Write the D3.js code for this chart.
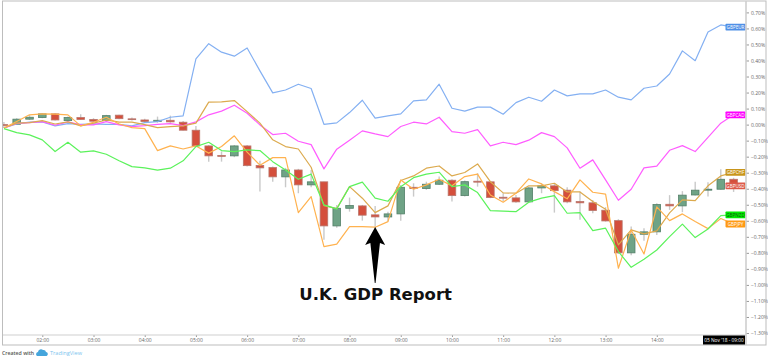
<!DOCTYPE html>
<html>
<head>
<meta charset="utf-8">
<script src="https://cdn.jsdelivr.net/npm/d3@7"></script>
<style>
  html, body { margin: 0; padding: 0; background: #fff; }
  svg { display: block; font-family: "Open Sans", Roboto, sans-serif; }
</style>
</head>
<body>
<svg id="chart" width="768" height="361"></svg>
<script>
// percent change, one value per 15 minute bar starting 01:15
const gbpEur = [
  -0.021, 0.004, 0.015, 0.017, -0.008, 0.006, 0.002, 0.004, 0.002, 0.002,
  -0.008, 0.012, 0.019, 0.046, 0.054, 0.410, 0.505, 0.452, 0.427, 0.478,
  0.335, 0.198, 0.216, 0.252, 0.225, 0.002, 0.011, 0.075, 0.152, 0.040,
  0.054, 0.067, 0.148, 0.154, 0.252, 0.102, 0.084, 0.109, 0.109, 0.065,
  0.137, 0.171, 0.146, 0.216, 0.179, 0.192, 0.192, 0.216, 0.171, 0.154,
  0.227, 0.241, 0.316, 0.460, 0.399, 0.578, 0.622, 0.608
];
const gbpCad = [
  -0.021, 0.007, 0.012, 0.019, -0.004, 0.017, -0.002, -0.002, 0.019, -0.002,
  -0.012, -0.006, 0.002, 0.006, -0.006, 0.017, 0.061, 0.084, 0.121, 0.071,
  -0.002, -0.062, -0.054, -0.104, -0.125, -0.276, -0.153, -0.097, -0.039, -0.058,
  -0.075, -0.012, 0.015, 0.004, 0.046, -0.044, -0.054, -0.031, -0.133, -0.110,
  -0.125, -0.097, -0.050, -0.075, -0.145, -0.272, -0.220, -0.345, -0.472, -0.403,
  -0.270, -0.259, -0.160, -0.131, -0.168, -0.080, 0.009, 0.061
];
const gbpChf = [
  -0.021, 0.009, 0.012, 0.025, 0.004, 0.017, -0.008, 0.009, 0.029, 0.015,
  0.015, 0, -0.019, -0.012, -0.008, 0.009, 0.140, 0.142, 0.150, 0.081,
  0.009, -0.095, -0.137, -0.152, -0.266, -0.505, -0.524, -0.387, -0.459, -0.549,
  -0.507, -0.349, -0.320, -0.272, -0.258, -0.320, -0.299, -0.245, -0.356, -0.426,
  -0.428, -0.382, -0.382, -0.366, -0.420, -0.420, -0.480, -0.528, -0.750, -0.657,
  -0.682, -0.663, -0.551, -0.470, -0.474, -0.382, -0.320, -0.298
];
const gbpJpy = [
  -0.021, 0.019, 0.061, 0.067, 0.065, 0.061, -0.008, 0.015, 0.046, 0.004,
  -0.019, -0.025, -0.162, -0.133, -0.152, -0.133, -0.178, -0.137, -0.070, -0.172,
  -0.253, -0.206, -0.206, -0.549, -0.449, -0.761, -0.746, -0.636, -0.636, -0.640,
  -0.605, -0.345, -0.403, -0.376, -0.341, -0.382, -0.324, -0.309, -0.439, -0.484,
  -0.428, -0.339, -0.370, -0.418, -0.463, -0.345, -0.422, -0.434, -0.896, -0.657,
  -0.807, -0.513, -0.599, -0.557, -0.605, -0.649, -0.586, -0.620
];
const gbpNzd = [
  -0.025, -0.050, -0.064, -0.095, -0.168, -0.110, -0.172, -0.164, -0.185, -0.225,
  -0.262, -0.270, -0.284, -0.272, -0.226, -0.137, -0.110, -0.162, -0.168, -0.158,
  -0.162, -0.231, -0.283, -0.341, -0.309, -0.501, -0.526, -0.387, -0.359, -0.459,
  -0.478, -0.387, -0.331, -0.309, -0.297, -0.387, -0.376, -0.424, -0.536, -0.540,
  -0.543, -0.484, -0.459, -0.443, -0.553, -0.549, -0.661, -0.646, -0.792, -0.890,
  -0.840, -0.782, -0.699, -0.621, -0.705, -0.651, -0.568, -0.563
];

// GBPUSD candles
const usdOpen = [
  0, 0.002, 0.034, 0.044, 0.067, 0.025, 0.044, 0.032, 0.025, 0.059,
  0.036, 0.029, 0.019, 0.027, 0.015, -0.035, -0.133, -0.193, -0.195, -0.133,
  -0.255, -0.268, -0.326, -0.283, -0.376, -0.357, -0.632, -0.522, -0.507, -0.563,
  -0.576, -0.557, -0.391, -0.399, -0.372, -0.347, -0.443, -0.353, -0.357, -0.453,
  -0.457, -0.482, -0.395, -0.382, -0.409, -0.480, -0.488, -0.534, -0.599, -0.800,
  -0.684, -0.669, -0.497, -0.507, -0.439, -0.409, -0.403, -0.341
];
const usdClose = [
  0, 0.034, 0.046, 0.067, 0.029, 0.044, 0.032, 0.021, 0.056, 0.037,
  0.031, 0.019, 0.027, 0.017, -0.035, -0.133, -0.195, -0.196, -0.133, -0.256,
  -0.270, -0.326, -0.283, -0.376, -0.357, -0.632, -0.522, -0.505, -0.565, -0.576,
  -0.557, -0.391, -0.399, -0.372, -0.347, -0.443, -0.356, -0.359, -0.455, -0.459,
  -0.482, -0.395, -0.382, -0.412, -0.482, -0.488, -0.536, -0.601, -0.800, -0.684,
  -0.669, -0.499, -0.507, -0.440, -0.409, -0.403, -0.341, -0.382
];
const usdHigh = [
  0.017, 0.039, 0.061, 0.071, 0.071, 0.050, 0.065, 0.040, 0.061, 0.061,
  0.044, 0.036, 0.050, 0.056, 0.023, -0.008, -0.127, -0.168, -0.127, -0.127,
  -0.225, -0.262, -0.270, -0.276, -0.283, -0.356, -0.501, -0.455, -0.501, -0.507,
  -0.543, -0.376, -0.366, -0.356, -0.324, -0.341, -0.349, -0.303, -0.353, -0.428,
  -0.439, -0.387, -0.366, -0.364, -0.391, -0.418, -0.470, -0.515, -0.590, -0.636,
  -0.646, -0.490, -0.440, -0.415, -0.356, -0.359, -0.278, -0.332
];
const usdLow = [
  -0.021, -0.002, 0.029, 0.040, 0.025, 0.019, 0.029, 0.015, 0.019, 0.034,
  0.025, 0.012, 0.012, 0.012, -0.037, -0.137, -0.231, -0.231, -0.203, -0.262,
  -0.418, -0.356, -0.391, -0.428, -0.391, -0.719, -0.643, -0.543, -0.599, -0.636,
  -0.605, -0.599, -0.449, -0.407, -0.376, -0.480, -0.449, -0.387, -0.459, -0.476,
  -0.487, -0.487, -0.428, -0.549, -0.490, -0.594, -0.553, -0.605, -0.807, -0.815,
  -0.724, -0.688, -0.532, -0.546, -0.443, -0.449, -0.407, -0.420
];

const yTicks = [0.7, 0.6, 0.5, 0.4, 0.3, 0.2, 0.1, 0, -0.1, -0.2, -0.3, -0.4, -0.5, -0.6, -0.7, -0.8, -0.9, -1.0, -1.1, -1.2, -1.3];
const hourTicks = [2, 3, 4, 5, 6, 7, 8, 9, 10, 11, 12, 13, 14];

const svg = d3.select("#chart");

const plot = { left: 3, right: 746, top: 1, bottom: 335 };

const barTimes = d3.range(usdOpen.length).map(i => new Date(Date.UTC(2018, 10, 5, 1, 15 + i * 15)));

const x = d3.scaleUtc()
  .domain([barTimes[0], barTimes[barTimes.length - 1]])
  .range([3.9, 733.6]);

const y = d3.scaleLinear()
  .domain([0.7, -1.3])
  .range([12.4, 333]);

svg.append("defs")
  .append("clipPath")
  .attr("id", "plot-clip")
  .append("rect")
  .attr("x", plot.left)
  .attr("y", plot.top)
  .attr("width", plot.right - plot.left)
  .attr("height", plot.bottom - plot.top);

const g = svg.append("g").attr("clip-path", "url(#plot-clip)");

// Candles
const candles = g.selectAll(".candle")
  .data(barTimes.map((t, i) => ({ t, open: usdOpen[i], close: usdClose[i], high: usdHigh[i], low: usdLow[i] })))
  .enter()
  .append("g")
  .attr("class", "candle");

candles.append("line")
  .attr("x1", d => x(d.t))
  .attr("x2", d => x(d.t))
  .attr("y1", d => y(d.high))
  .attr("y2", d => y(d.low))
  .attr("stroke", "#c9c9c9")
  .attr("stroke-width", 1.4);

candles.append("rect")
  .attr("x", d => x(d.t) - 3.8)
  .attr("y", d => y(Math.max(d.open, d.close)))
  .attr("width", 7.6)
  .attr("height", d => Math.max(0.8, Math.abs(y(d.open) - y(d.close))))
  .attr("fill", d => d.close > d.open ? "#6fa386" : "#d44f3c")
  .attr("stroke", d => d.close > d.open ? "#537f68" : "#b9766c")
  .attr("stroke-width", 0.8);

// Comparison lines
const line = d3.line()
  .x((d, i) => x(barTimes[i]))
  .y(d => y(d));

const series = [
  { name: "GBPEUR", values: gbpEur, line: "#84b0f2", label: "#4f8fe6", text: "#fff" },
  { name: "GBPCAD", values: gbpCad, line: "#ff5cff", label: "#ff00ff", text: "#fff" },
  { name: "GBPCHF", values: gbpChf, line: "#dcaa4e", label: "#c8951b", text: "#fff" },
  { name: "GBPJPY", values: gbpJpy, line: "#ffb24f", label: "#ff9a14", text: "#fff" },
  { name: "GBPNZD", values: gbpNzd, line: "#5bf25b", label: "#00ea00", text: "#145214" }
];

g.selectAll(".compare")
  .data(series)
  .enter()
  .append("path")
  .attr("class", "compare")
  .attr("fill", "none")
  .attr("stroke", d => d.line)
  .attr("stroke-width", 1.2)
  .attr("stroke-linejoin", "round")
  .attr("d", d => line(d.values));

// Last value labels
const labels = series.concat([
  { name: "GBPUSD", values: usdClose, label: "#dc5a4a", text: "#fff" }
]);

const tags = svg.selectAll(".tag")
  .data(labels)
  .enter()
  .append("g")
  .attr("class", "tag")
  .attr("transform", d => `translate(725.5,${y(d.values[d.values.length - 1])})`);

tags.append("rect")
  .attr("y", -3.4)
  .attr("width", 20)
  .attr("height", 6.8)
  .attr("rx", 0.8)
  .attr("fill", d => d.label);

tags.append("text")
  .attr("x", 10)
  .attr("y", 1.7)
  .attr("text-anchor", "middle")
  .attr("font-size", "4.6px")
  .attr("fill", d => d.text)
  .text(d => d.name);

// X axis
const xAxis = svg.append("g")
  .attr("transform", `translate(0,${plot.bottom})`)
  .call(d3.axisBottom(x)
    .tickValues(hourTicks.map(h => new Date(Date.UTC(2018, 10, 5, h))))
    .tickFormat(d3.utcFormat("%H:%M"))
    .tickSize(2)
    .tickPadding(1.5));
xAxis.select(".domain").remove();
xAxis.selectAll("line").attr("stroke", "#999");
xAxis.selectAll("text").attr("font-size", "5px").attr("font-family", "\"Open Sans\", sans-serif").attr("fill", "#666");

// Y axis
const yAxis = svg.append("g")
  .attr("transform", `translate(${plot.right},0)`)
  .call(d3.axisRight(y)
    .tickValues(yTicks)
    .tickFormat(d => d3.format(".2f")(d) + "%")
    .tickSize(3)
    .tickPadding(2));
yAxis.select(".domain").remove();
yAxis.selectAll("line").attr("stroke", "#999");
yAxis.selectAll("text").attr("font-size", "5px").attr("font-family", "\"Open Sans\", sans-serif").attr("fill", "#666");

// Frame and axis borders
svg.append("rect")
  .attr("x", 2.5)
  .attr("y", 1)
  .attr("width", 763.5)
  .attr("height", 344)
  .attr("fill", "none")
  .attr("stroke", "#bdbdbd")
  .attr("stroke-width", 1);

svg.append("line")
  .attr("x1", 3).attr("x2", plot.right)
  .attr("y1", plot.bottom).attr("y2", plot.bottom)
  .attr("stroke", "#cfcfcf");

svg.append("line")
  .attr("x1", plot.right).attr("x2", plot.right)
  .attr("y1", 1).attr("y2", 345)
  .attr("stroke", "#cfcfcf")
  .attr("stroke-width", 1.6);

// Crosshair date box
const dateBox = svg.append("g").attr("transform", "translate(703,335.5)");
dateBox.append("rect").attr("width", 42).attr("height", 9).attr("fill", "#000");
dateBox.append("text")
  .attr("x", 21)
  .attr("y", 6.3)
  .attr("text-anchor", "middle")
  .attr("font-size", "4.8px")
  .attr("fill", "#fff")
  .text("05 Nov '18 - 09:00");

// Arrow at the GDP release
const arrowX = x(barTimes[29]);
svg.append("path")
  .attr("d", `M${arrowX},227 L${arrowX + 10},245 L${arrowX + 4.8},243 L${arrowX + 0.4},283 L${arrowX - 0.4},283 L${arrowX - 4.8},243 L${arrowX - 10},245 Z`)
  .attr("fill", "#000");

svg.append("text")
  .attr("x", arrowX + 0.5)
  .attr("y", 300)
  .attr("text-anchor", "middle")
  .attr("font-family", "\"DejaVu Sans\", sans-serif")
  .attr("font-weight", "bold")
  .attr("font-size", "16.5px")
  .attr("fill", "#111")
  .text("U.K. GDP Report");

// Watermark
svg.append("text")
  .attr("x", 2)
  .attr("y", 355)
  .attr("font-size", "5.2px")
  .attr("font-weight", "600")
  .attr("fill", "#555")
  .text("Created with");

svg.append("path")
  .attr("d", "M37,356 a2.2,2.2 0 0 1 1,-4 a3,3 0 0 1 5,-2 a2.6,2.6 0 0 1 3,2 a2.1,2.1 0 0 1 0.6,4 Z")
  .attr("fill", "#45a5dc");

svg.append("text")
  .attr("x", 50)
  .attr("y", 355)
  .attr("font-size", "5.6px")
  .attr("fill", "#7cc4ee")
  .text("TradingView");
</script>
</body>
</html>
